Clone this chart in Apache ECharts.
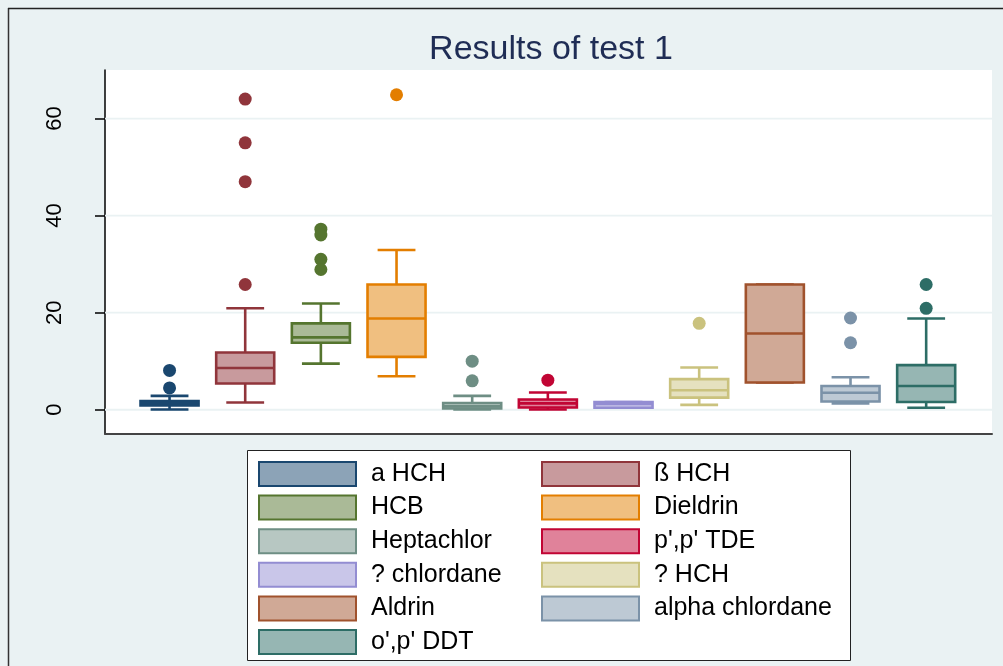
<!DOCTYPE html>
<html>
<head>
<meta charset="utf-8">
<script src="https://cdn.jsdelivr.net/npm/echarts@6/dist/echarts.min.js"></script>
<style>
html,body{margin:0;padding:0;background:#EAF2F3;}
#chart{width:1003px;height:666px;}
</style>
</head>
<body>
<div id="chart"></div>
<script>
// ---- data ----
const categories = ['a HCH', 'ß HCH', 'HCB', 'Dieldrin', 'Heptachlor', "p',p' TDE",
  '? chlordane', '? HCH', 'Aldrin', 'alpha chlordane', "o',p' DDT"];
const lowWhisker  = [0.05, 1.5, 9.5, 6.9, 0.05, 0.05, 0.4, 1.0, 5.6, 1.3, 0.4];
const q1Values    = [0.9, 5.4, 13.8, 10.9, 0.25, 0.45, 0.4, 2.5, 5.6, 1.7, 1.6];
const medianValues= [1.4, 8.6, 14.9, 18.8, 0.7, 1.3, 1.2, 4.0, 15.7, 3.5, 4.9];
const q3Values    = [1.8, 11.8, 17.8, 25.8, 1.4, 2.1, 1.6, 6.3, 25.8, 4.9, 9.2];
const highWhisker = [2.85, 20.9, 21.9, 32.9, 2.85, 3.55, 1.6, 8.7, 25.8, 6.7, 18.8];
const outlierValues = [
  [8.1, 4.5],
  [64.0, 55.0, 47.0, 25.8],
  [37.2, 36.0, 31.0, 28.9],
  [64.9],
  [10.0, 5.95],
  [6.1],
  [],
  [17.8],
  [],
  [18.9, 13.8],
  [25.8, 20.9]
];
const yTickValues = [0, 20, 40, 60];
const yTickLabels = ['0', '20', '40', '60'];

// ---- styles ----
const lineColors = ['#1A476F', '#90353B', '#55752F', '#E37E00', '#6E8E84', '#C10534',
  '#938DD2', '#CAC27E', '#A0522D', '#7B92A8', '#2D6D66'];
const fillColors = ['#8CA3B7', '#C89A9D', '#AABA97', '#F0BF80', '#B7C7C2', '#E0829A',
  '#C9C6E9', '#E5E1BF', '#D0A996', '#BDC9D4', '#96B6B3'];
const FONT = '"Liberation Sans", Arial, Helvetica, sans-serif';
const BOX_W = 0.767, CAP_W = 0.5, LW = 2.6;

const chart = echarts.init(document.getElementById('chart'), null, {renderer: 'canvas'});

function renderBox(params, api) {
  const x = api.value(0);
  const lo = api.coord([x, api.value(1)]);
  const p1 = api.coord([x, api.value(2)]);
  const pm = api.coord([x, api.value(3)]);
  const p3 = api.coord([x, api.value(4)]);
  const hi = api.coord([x, api.value(5)]);
  const bw = api.size([BOX_W, 0])[0];
  const cw = api.size([CAP_W, 0])[0];
  const i = params.seriesIndex - 1;
  const stroke = lineColors[i], fill = fillColors[i];
  const ls = {stroke: stroke, lineWidth: LW};
  const cx = lo[0];
  return {
    type: 'group',
    children: [
      {type: 'line', shape: {x1: cx, y1: p3[1], x2: cx, y2: hi[1]}, style: ls},
      {type: 'line', shape: {x1: cx, y1: p1[1], x2: cx, y2: lo[1]}, style: ls},
      {type: 'line', shape: {x1: cx - cw / 2, y1: hi[1], x2: cx + cw / 2, y2: hi[1]}, style: ls},
      {type: 'line', shape: {x1: cx - cw / 2, y1: lo[1], x2: cx + cw / 2, y2: lo[1]}, style: ls},
      {type: 'rect', shape: {x: cx - bw / 2, y: p3[1], width: bw, height: p1[1] - p3[1]},
        style: {fill: fill, stroke: stroke, lineWidth: LW}},
      {type: 'line', shape: {x1: cx - bw / 2, y1: pm[1], x2: cx + bw / 2, y2: pm[1]}, style: ls}
    ]
  };
}

function renderGridLine(params, api) {
  const cs = params.coordSys;
  const p = api.coord([0, api.value(0)]);
  return {type: 'line', shape: {x1: cs.x, y1: p[1], x2: cs.x + cs.width, y2: p[1]},
    style: {stroke: '#EAF2F3', lineWidth: 1.8}};
}

const series = [{
  type: 'custom', name: 'grid', silent: true, z: 1,
  renderItem: renderGridLine,
  data: yTickValues.map(v => [v]),
  encode: {y: 0}
}];
categories.forEach((name, i) => {
  series.push({
    type: 'custom', name: name, z: 2,
    renderItem: renderBox,
    itemStyle: {color: fillColors[i], borderColor: lineColors[i], borderWidth: 2},
    encode: {x: 0, y: [1, 2, 3, 4, 5]},
    data: [[i + 1, lowWhisker[i], q1Values[i], medianValues[i], q3Values[i], highWhisker[i]]]
  });
});
const outlierData = [];
outlierValues.forEach((arr, i) => arr.forEach(v => outlierData.push({value: [i + 1, v], itemStyle: {color: lineColors[i], opacity: 1}})));
series.push({
  type: 'scatter', name: 'outliers', z: 3, symbol: 'circle', symbolSize: 13,
  itemStyle: {opacity: 1},
  data: outlierData
});

function legendItems(idx) {
  return idx.map(i => ({name: categories[i], icon: 'rect',
    itemStyle: {color: fillColors[i], borderColor: lineColors[i], borderWidth: 2}}));
}
const legendCommon = {
  orient: 'vertical', top: 461, itemWidth: 97, itemHeight: 24, itemGap: 7.6,
  selectedMode: false, padding: 0,
  textStyle: {fontSize: 25, lineHeight: 24, color: '#000', fontFamily: FONT, padding: [0, 0, 0, 10]}
};

chart.setOption({
  backgroundColor: '#EAF2F3',
  animation: false,
  title: {
    text: 'Results of test 1', left: 546, top: 28, textAlign: 'center',
    textStyle: {fontSize: 34, fontWeight: 'normal', color: '#1F2D55', fontFamily: FONT}
  },
  grid: {left: 105, right: 11, top: 70, bottom: 232, show: true, backgroundColor: '#FFFFFF', borderWidth: 0},
  xAxis: {
    type: 'value', min: 0.147, max: 11.87,
    axisLine: {show: true, onZero: false, lineStyle: {color: '#444', width: 2}},
    axisTick: {show: false}, axisLabel: {show: false}, splitLine: {show: false}
  },
  yAxis: {
    type: 'value', min: -5, max: 70,
    axisLine: {show: true, lineStyle: {color: '#000', width: 1.5}},
    axisTick: {show: true, length: 10, customValues: yTickValues, lineStyle: {color: '#000', width: 1.5}},
    axisLabel: {show: true, customValues: yTickValues, rotate: 90, margin: 39, fontSize: 22, color: '#000', fontFamily: FONT,
      formatter: v => yTickLabels[yTickValues.indexOf(v)]},
    splitLine: {show: false}
  },
  legend: [
    Object.assign({left: 258, data: legendItems([0, 2, 4, 6, 8, 10])}, legendCommon),
    Object.assign({left: 541, data: legendItems([1, 3, 5, 7, 9])}, legendCommon)
  ],
  graphic: [
    {type: 'rect', z: 1, shape: {x: 247.5, y: 450.5, width: 603, height: 210},
      style: {fill: '#FFFFFF', stroke: '#222', lineWidth: 1}},
    {type: 'line', z: 1, shape: {x1: 8.5, y1: 8, x2: 8.5, y2: 666}, style: {stroke: '#333', lineWidth: 1.5}},
    {type: 'line', z: 1, shape: {x1: 8, y1: 8.5, x2: 1003, y2: 8.5}, style: {stroke: '#222', lineWidth: 1.5}}
  ],
  series: series
});
</script>
</body>
</html>
